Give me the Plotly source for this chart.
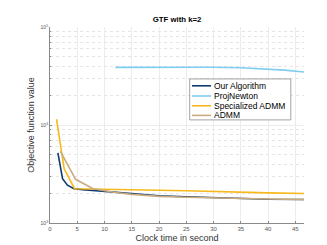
import plotly.graph_objects as go

our_x = [1.45, 2.3, 3.2, 4.4, 6, 8, 10, 15, 20, 25, 30, 35, 40, 46.6]
our_y = [5200, 2830, 2430, 2240, 2190, 2150, 2080, 1990, 1900, 1850, 1810, 1780, 1745, 1735]

pn_x = [12, 15, 20, 25, 30, 35, 40, 43, 46.6]
pn_y = [38700, 38800, 38900, 38900, 38800, 38400, 37200, 36300, 34700]

sadmm_x = [1.2, 2.6, 4.5, 8, 10, 15, 20, 25, 30, 35, 40, 46.6]
sadmm_y = [11500, 3570, 2240, 2230, 2220, 2190, 2160, 2130, 2090, 2060, 2030, 2000]

admm_x = [1.9, 4.7, 7.9, 10, 12, 15, 20, 25, 30, 35, 40, 46.6]
admm_y = [5370, 2790, 2240, 2140, 2050, 1960, 1870, 1830, 1800, 1780, 1760, 1740]

xticks = [0, 5, 10, 15, 20, 25, 30, 35, 40, 45]
yticks = [1e3, 1e4, 1e5]
yticktext = ["10<sup>3</sup>", "10<sup>4</sup>", "10<sup>5</sup>"]
yminor = [m * d for d in (1e3, 1e4) for m in range(2, 10)]

series = [
    ("Our Algorithm", our_x, our_y, "#0e3b70"),
    ("ProjNewton", pn_x, pn_y, "#7fcdf0"),
    ("Specialized ADMM", sadmm_x, sadmm_y, "#f7b81c"),
    ("ADMM", admm_x, admm_y, "#c9ab7f"),
]

fig = go.Figure()
for name, x, y, c in series:
    fig.add_trace(go.Scatter(x=x, y=y, mode="lines", name=name, showlegend=False,
                             line=dict(color=c, width=1.6)))

# manual compact legend (paper coordinates)
lx0, lx1, ly0, ly1 = 0.550, 0.948, 0.526, 0.735
fig.add_shape(type="rect", xref="paper", yref="paper", x0=lx0, x1=lx1, y0=ly0, y1=ly1,
              line=dict(color="#8c8c8c", width=0.8), fillcolor="white", layer="above")
rows = [0.700, 0.648, 0.598, 0.549]
for (name, _, _, c), ry in zip(series, rows):
    fig.add_shape(type="line", xref="paper", yref="paper", x0=0.559, x1=0.634,
                  y0=ry, y1=ry, line=dict(color=c, width=1.6), layer="above")
    fig.add_annotation(xref="paper", yref="paper", x=0.639, y=ry, text=name,
                       showarrow=False, xanchor="left", yanchor="middle",
                       font=dict(size=8.5, color="#000000"))

fig.update_layout(
    width=327, height=245,
    margin=dict(l=42, r=31, t=19, b=27),
    paper_bgcolor="white", plot_bgcolor="white",
    font=dict(family="Liberation Sans, Arial, sans-serif", color="#262626"),
    title=dict(text="<b>GTF with k=2</b>", x=0.517, xanchor="center",
               y=0.952, yanchor="middle", font=dict(size=7.8, color="#000000")),
    showlegend=False,
)
fig.update_xaxes(
    range=[0, 46.6], tickvals=xticks, showline=True, linecolor="#8a8a8a",
    linewidth=0.8, showgrid=True, gridcolor="#ececec", gridwidth=0.7,
    ticks="inside", ticklen=2, tickcolor="#8a8a8a",
    tickfont=dict(size=6, color="#555555"), zeroline=False,
    title=dict(text="Clock time in second", font=dict(size=9, color="#333333"),
               standoff=3),
)
fig.update_yaxes(
    type="log", range=[3, 5], tickvals=yticks, ticktext=yticktext,
    showline=True, linecolor="#8a8a8a", linewidth=0.8,
    showgrid=True, gridcolor="#ececec", gridwidth=0.7,
    ticks="inside", ticklen=2, tickcolor="#8a8a8a",
    tickfont=dict(size=5, color="#555555"), zeroline=False,
    minor=dict(tickvals=yminor, showgrid=True, griddash="dot", gridcolor="#e4e4e4",
               gridwidth=0.6, ticks="inside", ticklen=1.5, tickcolor="#8a8a8a"),
    title=dict(text="Objective function value", font=dict(size=9, color="#333333"),
               standoff=4),
)
fig.write_html("out.html")
